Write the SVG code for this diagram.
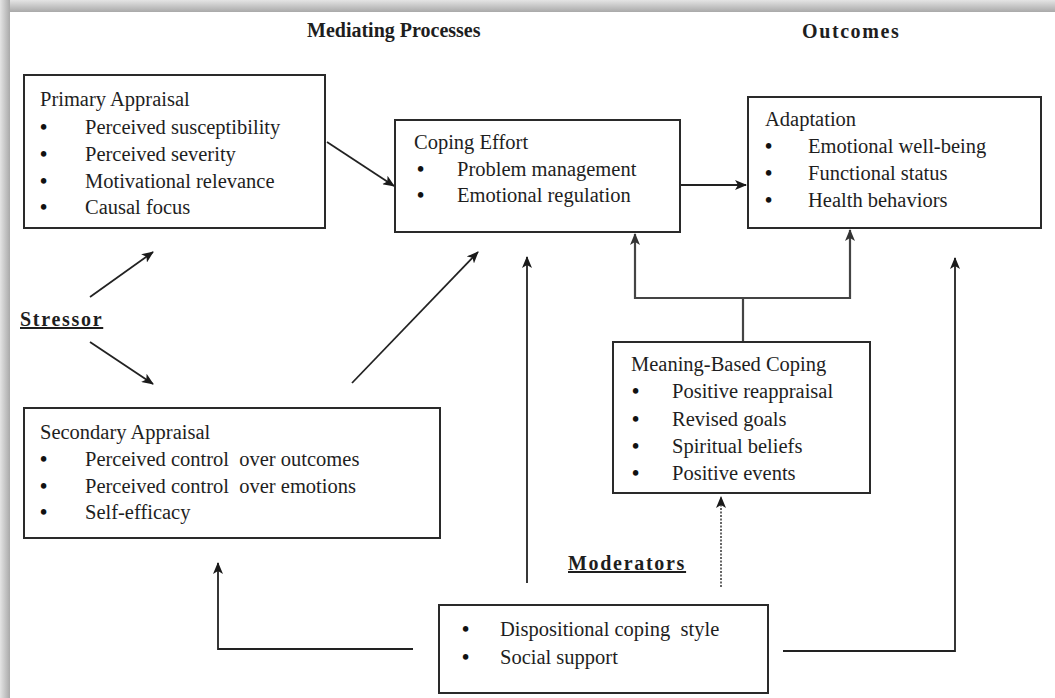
<svg xmlns="http://www.w3.org/2000/svg" width="1055" height="698" viewBox="0 0 1055 698">
<defs>
<linearGradient id="gTop" x1="0" y1="0" x2="0" y2="1"><stop offset="0" stop-color="#e4e4e4"/><stop offset="1" stop-color="#a9a9a9"/></linearGradient>
<linearGradient id="gLeft" x1="0" y1="0" x2="1" y2="0"><stop offset="0" stop-color="#e4e4e4"/><stop offset="1" stop-color="#a9a9a9"/></linearGradient>
<marker id="ah" viewBox="0 0 12 10" refX="11" refY="5" markerWidth="12" markerHeight="10" markerUnits="userSpaceOnUse" orient="auto">
<path d="M0,0 L12,5 L0,10 L3,5 z" fill="#1a1a1a"/>
</marker>
<marker id="ahg" viewBox="0 0 12 10" refX="11" refY="5" markerWidth="12" markerHeight="10" markerUnits="userSpaceOnUse" orient="auto">
<path d="M0,0 L12,5 L0,10 L3,5 z" fill="#333"/>
</marker>
</defs>
<style>
.box{fill:#fff;stroke:#2a2a2a;stroke-width:2}
.t{font-family:"Liberation Serif","Times New Roman",serif;font-size:20.5px;fill:#1e1e1e}
.b{font-family:"Liberation Serif","Times New Roman",serif;font-size:20.5px;font-weight:bold;fill:#111}
.h{font-family:"Liberation Serif","Times New Roman",serif;font-size:20px;font-weight:bold;fill:#1e1e1e}
.u{text-decoration:underline;letter-spacing:1.7px}
.c{fill:none;stroke:#222;stroke-width:1.8}
.cg{fill:none;stroke:#444;stroke-width:2.2}
.pre{white-space:pre}
</style>
<rect x="0" y="0" width="1055" height="698" fill="#fff"/>
<rect x="0" y="0" width="1055" height="12" fill="url(#gTop)"/>
<rect x="0" y="0" width="10" height="698" fill="url(#gLeft)"/>
<rect x="10" y="12" width="1045" height="686" fill="#fff"/>

<g id="titles">
<text class="h" x="307" y="37">Mediating Processes</text>
<text class="h" x="802" y="38" letter-spacing="1.6">Outcomes</text>
</g>

<g id="connectors">
<line class="c" x1="327" y1="142" x2="394" y2="186" marker-end="url(#ah)"/>
<line class="c" x1="680" y1="185" x2="746" y2="185" marker-end="url(#ah)"/>
<line class="c" x1="90" y1="297" x2="153" y2="252" marker-end="url(#ah)"/>
<line class="c" x1="90" y1="342" x2="153" y2="384" marker-end="url(#ah)"/>
<line class="c" x1="352" y1="383" x2="478" y2="252" marker-end="url(#ah)"/>
<line class="c" x1="527" y1="583" x2="527" y2="257" marker-end="url(#ah)"/>
<path class="cg" d="M743,342 L743,298"/>
<path class="cg" d="M743,298 L635,298 L635,234" marker-end="url(#ahg)"/>
<path class="cg" d="M743,298 L850,298 L850,230" marker-end="url(#ahg)"/>
<path class="c" d="M783,651 L955,651 L955,258" marker-end="url(#ah)"/>
<path class="c" d="M413,649 L218,649 L218,563" marker-end="url(#ah)"/>
<line x1="721" y1="587" x2="721" y2="497" stroke="#666" stroke-width="2" stroke-dasharray="2,1.5" marker-end="url(#ah)"/>
</g>

<g id="stressor">
<text class="h u" x="20" y="326">Stressor</text>
</g>

<g id="moderators-label">
<text class="h u" x="568" y="570">Moderators</text>
</g>

<g id="primary-appraisal">
<rect class="box" x="24" y="75" width="301" height="153"/>
<text class="t" x="40" y="106">Primary Appraisal</text>
<text class="b" x="40" y="134">•</text><text class="t" x="85" y="134">Perceived susceptibility</text>
<text class="b" x="40" y="161">•</text><text class="t" x="85" y="161">Perceived severity</text>
<text class="b" x="40" y="188">•</text><text class="t" x="85" y="188">Motivational relevance</text>
<text class="b" x="40" y="214">•</text><text class="t" x="85" y="214">Causal focus</text>
</g>

<g id="coping-effort">
<rect class="box" x="395" y="120" width="285" height="112"/>
<text class="t" x="414" y="149">Coping Effort</text>
<text class="b" x="417" y="176">•</text><text class="t" x="457" y="176">Problem management</text>
<text class="b" x="417" y="202">•</text><text class="t" x="457" y="202">Emotional regulation</text>
</g>

<g id="adaptation">
<rect class="box" x="748" y="97" width="293" height="131"/>
<text class="t" x="765" y="126">Adaptation</text>
<text class="b" x="765" y="153">•</text><text class="t" x="808" y="153">Emotional well-being</text>
<text class="b" x="765" y="180">•</text><text class="t" x="808" y="180">Functional status</text>
<text class="b" x="765" y="207">•</text><text class="t" x="808" y="207">Health behaviors</text>
</g>

<g id="secondary-appraisal">
<rect class="box" x="24" y="408" width="416" height="130"/>
<text class="t" x="40" y="439">Secondary Appraisal</text>
<text class="b" x="40" y="466">•</text><text class="t pre" x="85" y="466">Perceived control  over outcomes</text>
<text class="b" x="40" y="493">•</text><text class="t pre" x="85" y="493">Perceived control  over emotions</text>
<text class="b" x="40" y="519">•</text><text class="t" x="85" y="519">Self-efficacy</text>
</g>

<g id="meaning-based-coping">
<rect class="box" x="613" y="342" width="257" height="151"/>
<text class="t" x="631" y="371">Meaning-Based Coping</text>
<text class="b" x="632" y="398">•</text><text class="t" x="672" y="398">Positive reappraisal</text>
<text class="b" x="632" y="426">•</text><text class="t" x="672" y="426">Revised goals</text>
<text class="b" x="632" y="453">•</text><text class="t" x="672" y="453">Spiritual beliefs</text>
<text class="b" x="632" y="480">•</text><text class="t" x="672" y="480">Positive events</text>
</g>

<g id="moderators">
<rect class="box" x="439" y="605" width="329" height="88"/>
<text class="b" x="462" y="636">•</text><text class="t pre" x="500" y="636">Dispositional coping  style</text>
<text class="b" x="462" y="664">•</text><text class="t" x="500" y="664">Social support</text>
</g>
</svg>
